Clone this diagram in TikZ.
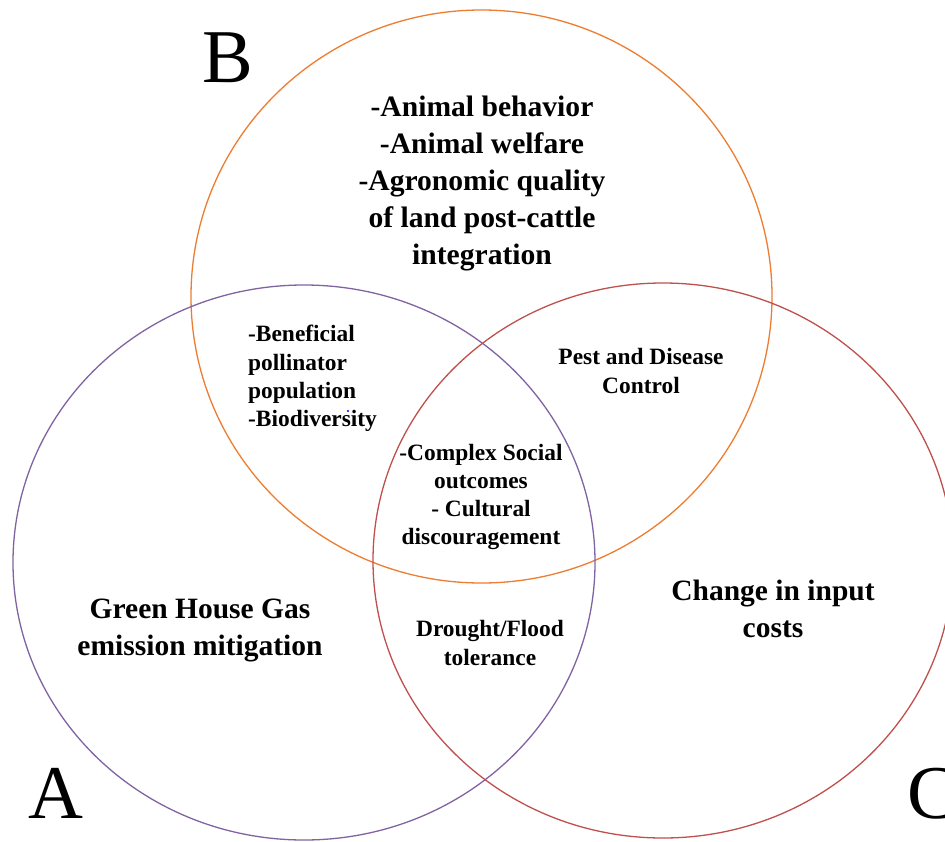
\documentclass[tikz,border=0pt]{standalone}
\usepackage{fontspec}
\setmainfont{Liberation Serif}
\definecolor{corange}{HTML}{ED7D31}
\definecolor{cpurple}{HTML}{8064A2}
\definecolor{cred}{HTML}{C0504D}
\begin{document}
\begin{tikzpicture}[x=1pt,y=-1pt,
  ring/.style={line width=1.3pt},
  bigtxt/.style={font=\bfseries\fontsize{29.6}{37}\selectfont, align=center, inner sep=0pt},
  smalltxt/.style={font=\bfseries\fontsize{23.4}{28.3}\selectfont, align=center, inner sep=0pt},
  setlabel/.style={font=\fontsize{76}{80}\selectfont, inner sep=0pt, anchor=base}]
\useasboundingbox (0,0) rectangle (945,841);
\clip (0,0) rectangle (945,841);
\fill[white] (0,0) rectangle (945,841);
% circles
\draw[ring, corange] (481.5,296.5) ellipse [x radius=290.5pt, y radius=286.5pt];
\draw[ring, cpurple] (304,562.5) ellipse [x radius=291pt, y radius=277.5pt];
\draw[ring, cred] (663,560.5) ellipse [x radius=290pt, y radius=277.5pt];
% set letters
\node[setlabel] (lB) at (228,82) {B};
\node[setlabel] (lA) at (56,818) {A};
\node[setlabel] (lC) at (933,818) {C};
% texts
\node[bigtxt] (tB) at (482,183.5) {-Animal behavior\\-Animal welfare\\-Agronomic quality\\of land post-cattle\\integration};
\node[bigtxt, font=\bfseries\fontsize{29.5}{37}\selectfont] (tA) at (200,630) {Green House Gas\\emission mitigation};
\node[bigtxt, font=\bfseries\fontsize{29.5}{37}\selectfont] (tC) at (773,609) {Change in input\\costs};
\node[smalltxt, align=left, anchor=west] (tAB) at (248,378.5) {-Beneficial\\pollinator\\population\\-Biodiversity};
\node[smalltxt] (tBC) at (641,371) {Pest and Disease\\Control};
\node[smalltxt] (tABC) at (481,497) {-Complex Social\\outcomes\\- Cultural\\discouragement};
\node[smalltxt] (tAC) at (490,643) {Drought/Flood\\tolerance};
\fill[blue] (348,411) circle (1.2pt);
\end{tikzpicture}
\end{document}
